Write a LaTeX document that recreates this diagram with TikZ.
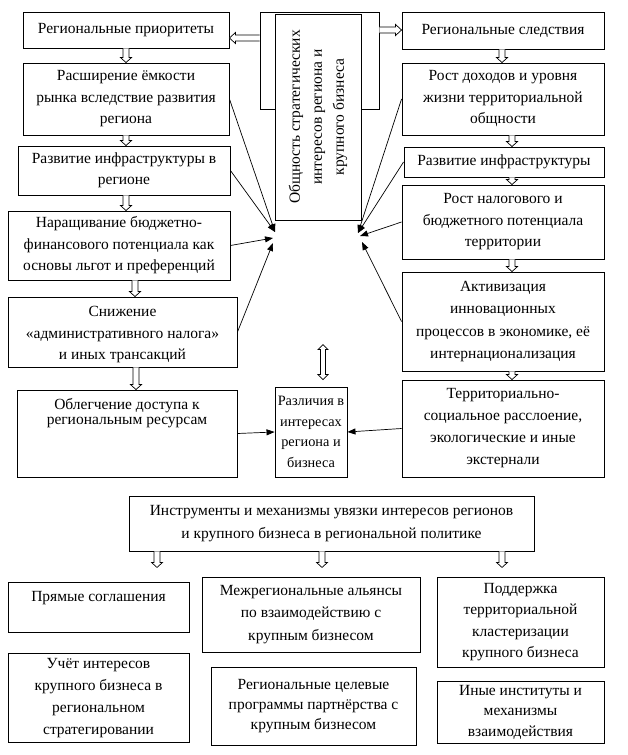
\documentclass[tikz,border=0pt]{standalone}
\usepackage{fontspec}
\setmainfont{Liberation Serif}
\usetikzlibrary{arrows.meta,calc}
\newcommand{\fnt}{\fontsize{15.5bp}{21.5bp}\selectfont}
\newcommand{\fsmall}{\fontsize{14.3bp}{20.5bp}\selectfont}
% hollow block arrow pointing down from node #2 to node #3 at x=#1
\newcommand{\hdown}[3]{%
  \draw[hollow] let \p1=(#2.south), \p2=(#3.north) in
   (#1bp-3bp,\y1) -- (#1bp-3bp,\y2+5bp) -- (#1bp-5.5bp,\y2+5bp) -- (#1bp,\y2)
   -- (#1bp+5.5bp,\y2+5bp) -- (#1bp+3bp,\y2+5bp) -- (#1bp+3bp,\y1);}
% hollow block arrow pointing down from node #2, length #3
\newcommand{\hdownlen}[3]{%
  \draw[hollow] let \p1=(#2.south) in
   (#1bp-3bp,\y1) -- (#1bp-3bp,\y1-#3bp+5bp) -- (#1bp-5.5bp,\y1-#3bp+5bp) -- (#1bp,\y1-#3bp)
   -- (#1bp+5.5bp,\y1-#3bp+5bp) -- (#1bp+3bp,\y1-#3bp+5bp) -- (#1bp+3bp,\y1);}
% hollow arrow pointing left at pixel row #1 from node #2 (west) to node #3 (east)
\newcommand{\hleft}[3]{%
  \draw[hollow] let \p1=(#2.west), \p2=(#3.east) in
   (\x1,-#1bp+3bp) -- (\x2+6bp,-#1bp+3bp) -- (\x2+6bp,-#1bp+5.5bp) -- (\x2,-#1bp)
   -- (\x2+6bp,-#1bp-5.5bp) -- (\x2+6bp,-#1bp-3bp) -- (\x1,-#1bp-3bp);}
% hollow arrow pointing right at pixel row #1 from node #2 (east) to node #3 (west)
\newcommand{\hright}[3]{%
  \draw[hollow] let \p1=(#2.east), \p2=(#3.west) in
   (\x1,-#1bp+3bp) -- (\x2-6bp,-#1bp+3bp) -- (\x2-6bp,-#1bp+5.5bp) -- (\x2,-#1bp)
   -- (\x2-6bp,-#1bp-5.5bp) -- (\x2-6bp,-#1bp-3bp) -- (\x1,-#1bp-3bp);}
% hollow double arrow above node #2 at x=#1
\newcommand{\hdouble}[2]{%
  \draw[hollow] let \p1=(#2.north) in
   (#1bp,\y1+7bp) -- (#1bp-5bp,\y1+12bp) -- (#1bp-2.5bp,\y1+12bp) -- (#1bp-2.5bp,\y1+37bp)
   -- (#1bp-5bp,\y1+37bp) -- (#1bp,\y1+42bp) -- (#1bp+5bp,\y1+37bp) -- (#1bp+2.5bp,\y1+37bp)
   -- (#1bp+2.5bp,\y1+12bp) -- (#1bp+5bp,\y1+12bp) -- cycle;}
\begin{document}
\begin{tikzpicture}[x=1bp,y=-1bp,
  box/.style={draw, line width=0.9bp, fill=white, inner sep=0pt, align=center, font=\fnt},
  txt/.style={inner sep=0pt, align=center},
  hollow/.style={draw, line width=0.7bp, fill=white, line join=miter},
  con/.style={line width=0.7bp, -{Triangle[length=8bp,width=6bp]}}]
\useasboundingbox[fill=white] (0,0) rectangle (628,755);

% centre boxes
\node[box, minimum width=119bp, minimum height=97bp] (outer) at (319.5,60.5) {};
\node[box, rotate=90, minimum width=206bp, minimum height=86bp,
      font=\fontsize{15.5bp}{22bp}\selectfont] (inner) at (318,117)
  {Общность стратегических\\интересов региона и\\крупного бизнеса};

% left column
\node[box, minimum width=206bp, minimum height=36bp] (l1) at (126,30) {Региональные приоритеты};
\node[box, minimum width=206bp, minimum height=72bp] (l2) at (126,99)
  {Расширение ёмкости\\рынка вследствие развития\\региона};
\node[box, minimum width=212bp, minimum height=49bp] (l3) at (124,170.5)
  {Развитие инфраструктуры в\\регионе};
\node[box, minimum width=222bp, minimum height=69bp] (l4) at (119,245.5)
  {Наращивание бюджетно-\\финансового потенциала как\\основы льгот и преференций};
\node[box, minimum width=229bp, minimum height=70bp] (l5) at (122.5,332) {};
\node[txt, font=\fnt] (l5t) at (122.5,335)
  {Снижение\\«административного налога»\\и иных трансакций};
\node[box, minimum width=220bp, minimum height=87bp] (l6) at (127,433.5) {};
\node[txt, anchor=north, font=\fontsize{15.5bp}{15.5bp}\selectfont] (l6t) at (127,398)
  {Облегчение доступа к\\региональным ресурсам};
\node[box, minimum width=72bp, minimum height=90bp, font=\fsmall] (dif) at (311,432)
  {Различия в\\интересах\\региона и\\бизнеса};

% right column
\node[box, minimum width=202bp, minimum height=37bp] (r1) at (503,30.5) {Региональные следствия};
\node[box, minimum width=202bp, minimum height=72bp] (r2) at (503,99)
  {Рост доходов и уровня\\жизни территориальной\\общности};
\node[box, minimum width=200bp, minimum height=30bp] (r3) at (504,162) {Развитие инфраструктуры};
\node[box, minimum width=202bp, minimum height=74bp] (r4) at (503,222)
  {Рост налогового и\\бюджетного потенциала\\территории};
\node[box, minimum width=202bp, minimum height=99bp,
      font=\fontsize{15.5bp}{22.5bp}\selectfont] (r5) at (503,321.5)
  {Активизация\\инновационных\\процессов в экономике, её\\интернационализация};
\node[box, minimum width=202bp, minimum height=97bp,
      font=\fontsize{15.5bp}{22bp}\selectfont] (r6) at (503,428.5)
  {Территориально-\\социальное расслоение,\\экологические и иные\\экстернали};

% bottom part
\node[box, minimum width=405bp, minimum height=55bp,
      font=\fontsize{15.5bp}{23bp}\selectfont] (ins) at (331.5,523.5)
  {Инструменты и механизмы увязки интересов регионов\\и крупного бизнеса в региональной политике};
\node[box, minimum width=181bp, minimum height=50bp] (b1) at (98.5,607) {};
\node[txt, font=\fnt] (b1t) at (98.5,598) {Прямые соглашения};
\node[box, minimum width=181bp, minimum height=89bp,
      font=\fontsize{15.5bp}{22bp}\selectfont] (b2) at (98.5,698)
  {Учёт интересов\\крупного бизнеса в\\региональном\\стратегировании};
\node[box, minimum width=218bp, minimum height=75bp, font=\fontsize{15.5bp}{22.5bp}\selectfont] (b3) at (311,614.5)
  {Межрегиональные альянсы\\по взаимодействию с\\крупным бизнесом};
\node[box, minimum width=205bp, minimum height=78bp, font=\fontsize{15.5bp}{20bp}\selectfont] (b4) at (313.5,706)
  {Региональные целевые\\программы партнёрства с\\крупным бизнесом};
\node[box, minimum width=167bp, minimum height=90bp] (b5) at (520.5,622)
  {Поддержка\\территориальной\\кластеризации\\крупного бизнеса};
\node[box, minimum width=167bp, minimum height=62bp, font=\fontsize{15.5bp}{20.5bp}\selectfont] (b6) at (520.5,712)
  {Иные институты и\\механизмы\\взаимодействия};

% hollow block arrows
\hleft{38}{outer}{l1}
\hright{30}{outer}{r1}
\hdown{126}{l1}{l2}
\hdown{126}{l2}{l3}
\hdown{126}{l3}{l4}
\hdown{135}{l4}{l5}
\hdown{136}{l5}{l6}
\hdown{502}{r1}{r2}
\hdown{512}{r2}{r3}
\hdown{512}{r3}{r4}
\hdown{512}{r4}{r5}
\hdown{512}{r5}{r6}
\hdouble{323}{dif}
\hdownlen{157}{ins}{16}
\hdownlen{322}{ins}{16}
\hdownlen{502}{ins}{16}

% converging connectors
\coordinate (cl1) at (275,232);
\coordinate (cl2) at (273,238);
\coordinate (cl3) at (273,243);
\coordinate (cr1) at (358,233);
\coordinate (cr2) at (360,236);
\coordinate (cr3) at (362,242);
\draw[con] (l2.east) -- (cl1);
\draw[con] (l3.east) -- (cl1);
\draw[con] (l4.east) -- (cl2);
\draw[con] (l5.east) -- (cl3);
\draw[con] (r2.west) -- (cr1);
\draw[con] (r3.west) -- (cr1);
\draw[con] (r4.west) -- (cr2);
\draw[con] (r5.west) -- (cr3);
\draw[con] (l6.east) -- (dif.west);
\draw[con] (r6.west) -- (dif.east);
\end{tikzpicture}
\end{document}
